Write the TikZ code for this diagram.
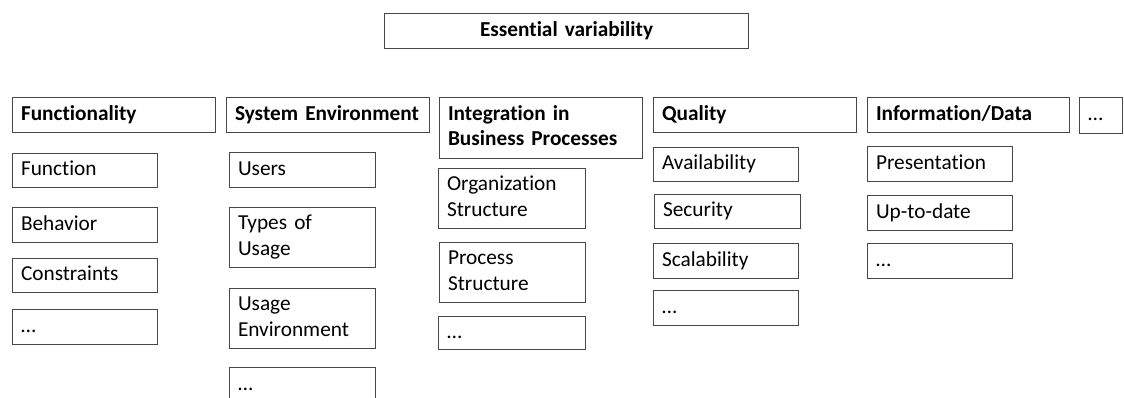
\documentclass[tikz,border=0pt]{standalone}
\usepackage{fontspec}
\setmainfont{Carlito}[Ligatures=NoCommon]
\tikzset{
  box/.style={draw=black!72, line width=1pt, inner xsep=8.5pt, inner ysep=0pt,
    anchor=north west, align=left, font=\fontsize{21.3}{25.5}\selectfont,
    execute at begin node={\strut}, execute at end node={\strut}},
  hdr/.style={box, font=\fontsize{21.3}{25.5}\selectfont\bfseries},
}
\begin{document}
\begin{tikzpicture}[x=1pt,y=-1pt]
\clip (0,0) rectangle (1124,398);
\fill[white] (0,0) rectangle (1124,398);
% top
\node[hdr, align=center, text width=347pt, minimum height=35pt] (ev) at (384,13) {Essential variability};
% column 1
\node[hdr, text width=186pt, minimum height=35pt] (func) at (12,97) {Functionality};
\node[box, text width=128pt, minimum height=34pt] (f1) at (12,153) {Function};
\node[box, text width=128pt, minimum height=35pt] (f2) at (12,207) {Behavior};
\node[box, text width=128pt, minimum height=34pt] (f3) at (12,258) {Constraints};
\node[box, text width=128pt, minimum height=35pt] (f4) at (12,309) {…};
% column 2
\node[hdr, text width=186pt, minimum height=35pt] (env) at (226,97) {System Environment};
\node[box, text width=129pt, minimum height=35pt] (e1) at (229,152) {Users};
\node[box, text width=129pt, minimum height=60pt] (e2) at (229,207) {Types of\\Usage};
\node[box, text width=129pt, minimum height=60pt] (e3) at (229,288) {Usage\\Environment};
\node[box, text width=129pt, minimum height=36pt] (e4) at (229,367) {…};
% column 3
\node[hdr, text width=186pt, minimum height=61pt] (int) at (439,97) {Integration in\\Business Processes};
\node[box, text width=130pt, minimum height=60pt] (i1) at (438,168) {Organization\\Structure};
\node[box, text width=129pt, minimum height=60pt] (i2) at (439,242) {Process\\Structure};
\node[box, text width=130pt, minimum height=33pt] (i3) at (438,316) {…};
% column 4
\node[hdr, text width=186pt, minimum height=35pt] (qual) at (653,97) {Quality};
\node[box, text width=128pt, minimum height=34pt] (q1) at (653,147) {Availability};
\node[box, text width=129pt, minimum height=34pt] (q2) at (654,194) {Security};
\node[box, text width=128pt, minimum height=35pt] (q3) at (653,243) {Scalability};
\node[box, text width=128pt, minimum height=35pt] (q4) at (653,290) {…};
% column 5
\node[hdr, text width=185pt, minimum height=35pt] (info) at (867,97) {Information/Data};
\node[box, text width=128pt, minimum height=35pt] (d1) at (867,146) {Presentation};
\node[box, text width=128pt, minimum height=35pt] (d2) at (867,195) {Up-to-date};
\node[box, text width=128pt, minimum height=35pt] (d3) at (867,243) {…};
% column 6
\node[box, text width=26pt, minimum height=36pt] (more) at (1079,97) {…};
\end{tikzpicture}
\end{document}
